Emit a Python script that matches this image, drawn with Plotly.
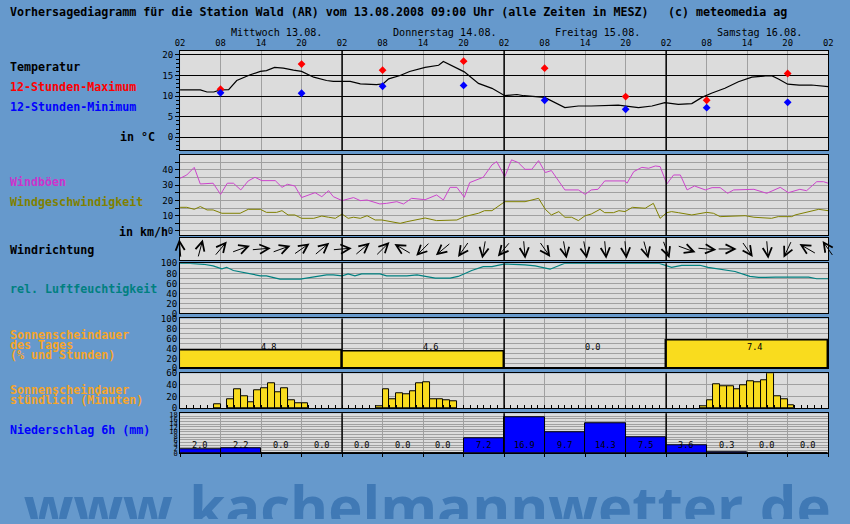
import math
import plotly.graph_objects as go

W, H = 850, 524
BG = '#6699CC'
PANEL = '#DCDCDC'
GRID = '#A0A0A0'
MONO = 'DejaVu Sans Mono'

# ---------------- data ----------------
hour_labels = ['02', '08', '14', '20'] * 4 + ['02']
day_names = ['Mittwoch 13.08.', 'Donnerstag 14.08.', 'Freitag 15.08.', 'Samstag 16.08.']
day_starts = [0, 24, 48, 72]
day_bounds = [24, 48, 72]

temp_hours = [0, 3, 4, 5, 6, 7.2, 8.4, 10.4, 11.9, 12.8, 14, 15.3, 16.8, 18, 19.8, 21.7, 22.7,
              25.2, 26.7, 29.1, 30.1, 30.9, 32.6, 34, 36.3, 38.3, 39, 40.2, 42.1, 44.2, 46.2,
              48.1, 49.9, 50.9, 53.1, 54, 57, 59, 60.9, 64.9, 67.9, 69.9, 71.8, 73.8, 75.8,
              77.3, 78.7, 80.7, 82.7, 84.7, 86.7, 87.7, 88.7, 90, 91.7, 93.5, 96]
temp_values = [11.5, 11.5, 11.0, 11.0, 11.5, 11.6, 13.8, 15.2, 16.0, 16.2, 17.0, 16.8, 16.3,
               16.0, 14.6, 13.8, 13.6, 13.6, 13.0, 12.8, 13.0, 14.2, 15.0, 16.0, 17.0, 17.5,
               18.4, 17.5, 15.9, 13.1, 11.9, 10.1, 10.4, 10.1, 9.7, 9.7, 7.2, 7.6, 7.6, 7.8,
               7.2, 7.6, 8.4, 8.0, 8.2, 9.7, 10.7, 11.9, 13.5, 14.6, 14.9, 14.9, 14.1, 12.9,
               12.7, 12.7, 12.3]
ext_hours = [6, 18, 30, 42, 54, 66, 78, 90]
tmax_values = [11.7, 17.8, 16.3, 18.5, 16.8, 9.9, 9.0, 15.5]
tmin_values = [10.8, 10.7, 12.4, 12.6, 9.0, 6.8, 7.2, 8.5]

gust_hours = [0, 1, 2.1, 3, 4.9, 6, 7, 7.9, 9, 10.1, 11.1, 12.1, 14.1, 15.1, 15.9, 17, 18, 20,
              21, 22, 22.7, 24, 25.7, 26.7, 27.7, 29.6, 30.6, 32.1, 33.1, 34.3, 36.3, 38, 39,
              40, 41, 42.1, 42.9, 44.9, 46.2, 46.9, 48.1, 49.1, 50.1, 51.1, 52.1, 53.1, 54.1,
              55, 57, 59, 60, 60.9, 61.9, 62.9, 65.9, 66.2, 67.2, 68.4, 69.4, 70.4, 71.1,
              72.1, 73.1, 74.1, 75.1, 76.2, 77.8, 78.8, 80, 81.1, 82, 85, 86.9, 88.9, 90.1,
              91.8, 92.8, 94.3, 95.3, 96]
gust_values = [34.5, 36.7, 41.7, 30.8, 31.3, 24.0, 31.3, 31.3, 26.9, 32.8, 35.2, 33.0, 33.0,
               28.6, 30.6, 29.5, 21.9, 25.1, 22.5, 26.4, 22.5, 19.9, 21.9, 19.9, 20.3, 17.7,
               18.1, 19.2, 17.7, 21.4, 20.5, 23.6, 20.3, 28.6, 28.6, 22.1, 31.7, 35.2, 43.3,
               45.5, 35.6, 46.6, 44.8, 40.4, 40.4, 46.1, 38.3, 39.6, 26.9, 26.9, 24.0, 26.9,
               27.3, 32.8, 32.8, 31.3, 38.9, 41.7, 41.1, 42.6, 42.2, 30.8, 36.7, 36.7, 26.9,
               29.5, 26.9, 28.4, 28.4, 24.7, 26.9, 27.3, 24.7, 28.6, 25.1, 27.3, 26.4, 32.3,
               32.3, 31.3]

wind_hours = [0, 1, 2.1, 3, 4, 4.9, 6.2, 8.9, 10.1, 11.9, 12.8, 14.3, 15.1, 16, 17, 18, 19.8,
              21, 22, 23, 24, 24.9, 25.7, 26.7, 27.7, 28.9, 29.9, 31.6, 32.6, 33.6, 35.1, 36.3,
              38, 39.5, 41, 42.1, 44.2, 45.1, 46.2, 48.1, 51.1, 53.1, 54.1, 55, 56.1, 57, 58,
              59, 60, 60.9, 62.2, 62.9, 64.2, 65, 65.9, 67, 68.9, 70.1, 71.1, 72.1, 72.8,
              73.8, 75.8, 78, 79, 80, 83.7, 85, 87.6, 88.6, 90.6, 91.1, 92.8, 94.6, 96]
wind_values = [15.5, 15.5, 14.2, 16.0, 13.8, 13.8, 11.6, 11.6, 14.2, 14.2, 12.2, 12.2, 13.3,
               10.5, 10.5, 8.3, 8.3, 9.8, 9.0, 8.3, 11.1, 8.3, 9.0, 8.3, 10.0, 7.2, 7.2, 5.5,
               5.0, 6.1, 7.2, 8.5, 6.8, 6.8, 7.2, 9.4, 11.6, 13.3, 13.3, 19.2, 19.2, 21.4,
               14.2, 10.5, 12.7, 9.0, 9.0, 6.8, 10.0, 11.1, 14.2, 12.0, 12.0, 13.3, 12.7,
               15.5, 14.9, 18.1, 8.3, 12.0, 12.7, 12.0, 10.5, 12.2, 11.6, 9.4, 10.0, 9.0, 8.3,
               9.4, 9.4, 10.5, 12.2, 14.2, 13.3]

dir_hours = list(range(0, 97, 3))
dir_degrees = [355, 15, 40, 70, 85, 70, 55, 50, 85, 50, 45, 300, 225, 230, 215, 190, 220,
               175, 145, 170, 170, 175, 175, 165, 160, 110, 95, 90, 145, 175, 205, 300, 325]

hum_hours = [0, 1.5, 3.5, 4.9, 6.2, 6.9, 7.9, 9.9, 11.9, 12.8, 14.8, 17.8, 18.8, 20.7, 21.7,
             22.7, 24, 24.9, 25.9, 26.9, 29.6, 30.6, 33.6, 35.1, 36.3, 37.8, 40, 41.2, 43.2,
             44.9, 46.2, 48.1, 51.1, 52.6, 54.8, 57, 70.9, 72.8, 74.3, 77, 78.2, 82.2, 84.4,
             85.7, 86.7, 88.2, 93.1, 94.3, 96]
hum_values = [100, 100, 98, 94.8, 88.9, 92, 85.6, 80.3, 75, 75, 68.5, 68.5, 70.5, 75, 77, 77,
              75, 79, 75, 79, 79, 75, 75, 77, 73.8, 70.5, 70.5, 73.8, 85.6, 93.4, 93.4, 98.7,
              96.7, 94.8, 88.2, 100, 100, 92, 96, 96, 92, 83.6, 73.8, 71.8, 71.8, 72.5, 72.5,
              69.2, 69.2]

sun_day_pct = [35, 33, 0, 55]
sun_day_hours = [4.8, 4.6, 0.0, 7.4]

sun_hour_start = [5, 7, 8, 9, 10, 11, 12, 13, 14, 15, 16, 17, 18,
                  29, 30, 31, 32, 33, 34, 35, 36, 37, 38, 39, 40,
                  77, 78, 79, 80, 81, 82, 83, 84, 85, 86, 87, 88, 89, 90]
sun_minutes = [7, 16, 33, 21, 11, 31, 34, 43, 27, 34, 14, 9, 9,
               3, 33, 15, 26, 24, 30, 43, 45, 15, 15, 14, 12,
               3, 14, 41, 38, 38, 33, 39, 46, 45, 48, 60, 20, 15, 5]

precip_start = list(range(0, 96, 6))
precip_mm = [2.0, 2.2, 0.0, 0.0, 0.0, 0.0, 0.0, 7.2, 16.9, 9.7, 14.3, 7.5, 3.6, 0.3, 0.0, 0.0]

watermark = 'www.kachelmannwetter.de'

# ---------------- layout helpers ----------------
# the photographed page shows up inset by ~5 px and slightly shrunk; positions below are
# given in picture pixels and converted to page coordinates
OX, OY, SX, SY = 5.0, 5.0, 0.988, 0.981
FS = 1.015  # font scale compensation


def px(r):
    return (r - OX) / SX


def fx(r):
    return px(r) / W


def fy(r):
    return 1 - ((r - OY) / SY) / H


X0, X1 = 180, 828

# panels: (top px, bottom px, y range)
panels = [
    (51, 150, [-3.09, 20.97]),      # temperature
    (155, 235, [-2.62, 49.8]),      # wind
    (238, 260, [-1, 1]),            # wind direction
    (263.3, 313.5, [0, 100]),       # humidity
    (318.5, 368.3, [0, 100]),       # daily sunshine
    (373.3, 408.3, [0, 60]),        # hourly sunshine
    (413.3, 453.3, [0, 18.8]),      # precipitation
]

fig = go.Figure()

tick_font = dict(family=MONO, size=9 * FS, color='black')
shapes = []

for i, (top, bot, rng) in enumerate(panels):
    n = '' if i == 0 else str(i + 1)
    xa = dict(domain=[fx(X0), fx(X1)], range=[0, 96], anchor='y' + n,
              showgrid=True, gridcolor=GRID, gridwidth=1,
              tickvals=list(range(0, 97, 6)), ticktext=hour_labels,
              showline=True, mirror=True, linecolor='black', linewidth=1,
              zeroline=False, fixedrange=True)
    if i == 0:
        xa.update(side='top', showticklabels=True, ticks='',
                  tickfont=dict(family=MONO, size=8.7 * FS, color='black'))
    else:
        xa.update(showticklabels=False, matches='x', ticks='')
    if i == 5:
        xa.update(ticks='inside', ticklen=3, tickcolor='black',
                  minor=dict(dtick=1, tick0=0, ticks='inside', ticklen=3, tickcolor='black'))
    if i == 6:
        xa.update(ticks='outside', ticklen=3, tickcolor='black')
    ya = dict(domain=[fy(bot), fy(top)], range=rng, anchor='x' + n,
              showline=True, mirror=True, linecolor='black', linewidth=1,
              zeroline=False, fixedrange=True, tickfont=tick_font,
              showgrid=True, gridcolor=GRID, gridwidth=1)
    fig.layout['xaxis' + n] = xa
    fig.layout['yaxis' + n] = ya
    shapes.append(dict(type='rect', xref='paper', yref='paper', x0=fx(X0), x1=fx(X1),
                       y0=fy(bot), y1=fy(top), fillcolor=PANEL, line=dict(width=0),
                       layer='below'))

fig.layout.yaxis.update(tickvals=[0, 5, 10, 15, 20], gridcolor='black', ticks='outside',
                        ticklen=4, tickcolor='black',
                        minor=dict(dtick=1, tick0=0, ticks='outside', ticklen=3, tickcolor='black'))
fig.layout.yaxis2.update(tickvals=[0, 10, 20, 30, 40], ticks='outside', ticklen=4, tickcolor='black',
                         minor=dict(dtick=5, tick0=0, showgrid=True, gridcolor=GRID,
                                    ticks='outside', ticklen=4, tickcolor='black'))
fig.layout.yaxis3.update(showticklabels=False, showgrid=False)
fig.layout.yaxis4.update(tickvals=[0, 20, 40, 60, 80, 100], ticks='',
                         minor=dict(dtick=10, tick0=0, showgrid=True, gridcolor=GRID))
fig.layout.yaxis5.update(tickvals=[0, 20, 40, 60, 80, 100], ticks='',
                         minor=dict(dtick=10, tick0=0, showgrid=True, gridcolor=GRID))
fig.layout.yaxis6.update(tickvals=[0, 20, 40, 60], ticks='')
fig.layout.yaxis7.update(tickvals=list(range(0, 19, 2)), ticks='', showgrid=False,
                         tickfont=dict(family=MONO, size=7, color='black'),
                         minor=dict(dtick=1.25, tick0=0, showgrid=True, gridcolor=GRID))

# watermark subplot in page pixel units, clipped at the page bottom
fig.layout.xaxis8 = dict(domain=[0, 1], range=[0, W], visible=False, fixedrange=True, anchor='y8')
fig.layout.yaxis8 = dict(domain=[0, 62 / H], range=[0, 62], visible=False, fixedrange=True, anchor='x8')

# ---------------- traces ----------------
fig.add_trace(go.Scatter(x=temp_hours, y=temp_values, mode='lines',
                         line=dict(color='black', width=1.2), xaxis='x', yaxis='y'))
fig.add_trace(go.Scatter(x=ext_hours, y=tmax_values, mode='markers',
                         marker=dict(symbol='diamond', size=6, color='#FF0000'), xaxis='x', yaxis='y'))
fig.add_trace(go.Scatter(x=ext_hours, y=tmin_values, mode='markers',
                         marker=dict(symbol='diamond', size=6, color='#0000FF'), xaxis='x', yaxis='y'))

fig.add_trace(go.Scatter(x=gust_hours, y=gust_values, mode='lines',
                         line=dict(color='#CC44CC', width=1), xaxis='x2', yaxis='y2'))
fig.add_trace(go.Scatter(x=wind_hours, y=wind_values, mode='lines',
                         line=dict(color='#808000', width=1), xaxis='x2', yaxis='y2'))

fig.add_trace(go.Scatter(x=hum_hours, y=hum_values, mode='lines',
                         line=dict(color='#008080', width=1.2), xaxis='x4', yaxis='y4'))

fig.add_trace(go.Bar(x=[d + 12 for d in day_starts], y=sun_day_pct, width=24,
                     marker=dict(color='#F9DC1E', line=dict(color='black', width=1.5)),
                     xaxis='x5', yaxis='y5'))
fig.add_trace(go.Bar(x=[h + 0.5 for h in sun_hour_start], y=sun_minutes, width=1,
                     marker=dict(color='#F9DC1E', line=dict(color='black', width=1)),
                     xaxis='x6', yaxis='y6'))
fig.add_trace(go.Bar(x=[h + 3 for h in precip_start], y=precip_mm, width=6,
                     marker=dict(color='#0000FF', line=dict(color='black', width=1)),
                     xaxis='x7', yaxis='y7'))

fig.add_trace(go.Scatter(x=[19], y=[6], mode='text', text=['<b>%s</b>' % watermark],
                         textposition='middle right', cliponaxis=True, hoverinfo='skip',
                         textfont=dict(family='Open Sans', size=58, color='#4079B5'),
                         xaxis='x8', yaxis='y8'))

for i in range(len(panels)):
    n = '' if i == 0 else str(i + 1)
    for b in day_bounds:
        shapes.append(dict(type='line', xref='x' + n, yref='y' + n + ' domain',
                           x0=b, x1=b, y0=0, y1=1, line=dict(color='black', width=1.5),
                           layer='above'))

# ---------------- annotations ----------------
ann = []


def label(xp, yp, text, color='black', size=11.5, bold=True, xanchor='left', family=MONO):
    t = '<b>%s</b>' % text if bold else text
    shift = -2 if xanchor == 'left' else 2
    ann.append(dict(x=fx(xp), y=fy(yp), xref='paper', yref='paper', text=t, showarrow=False,
                    xanchor=xanchor, yanchor='middle', xshift=shift,
                    font=dict(family=family, size=size * FS, color=color)))


label(10, 12.5, 'Vorhersagediagramm für die Station Wald (AR) vom 13.08.2008 09:00 Uhr (alle Zeiten in MESZ)')
label(668, 12.5, '(c) meteomedia ag')

label(10, 67, 'Temperatur')
label(10, 87, '12-Stunden-Maximum', color='#FF0000')
label(10, 107, '12-Stunden-Minimum', color='#0000FF')
label(155, 137, 'in °C', xanchor='right')
label(10, 182, 'Windböen', color='#CC33CC')
label(10, 202, 'Windgeschwindigkeit', color='#808000')
label(168, 232, 'in km/h', xanchor='right')
label(10, 250, 'Windrichtung')
label(10, 289, 'rel. Luftfeuchtigkeit', color='#008080')
ORANGE = '#F5A52A'
label(10, 335, 'Sonnenscheindauer', color=ORANGE)
label(10, 345, 'des Tages', color=ORANGE)
label(10, 355, '(% und Stunden)', color=ORANGE)
label(10, 390, 'Sonnenscheindauer', color=ORANGE)
label(10, 400, 'stündlich (Minuten)', color=ORANGE)
label(10, 430, 'Niederschlag 6h (mm)', color='#0000FF')

# day names
for d, name in zip(day_starts, day_names):
    ann.append(dict(x=d, y=fy(33), xref='x', yref='paper', text=name, showarrow=False,
                    xanchor='left', yanchor='middle', xshift=49,
                    font=dict(family=MONO, size=10 * FS, color='black')))

# daily sunshine labels
for d, v in zip(day_starts, sun_day_hours):
    ann.append(dict(x=d + 12, y=42, xref='x5', yref='y5', text='%.1f' % v, showarrow=False,
                    xanchor='left', yanchor='middle', xshift=-2,
                    font=dict(family=MONO, size=8.5 * FS, color='black')))

# precipitation labels
for s, v in zip(precip_start, precip_mm):
    ann.append(dict(x=s + 3, y=3.9, xref='x7', yref='y7', text='%.1f' % v, showarrow=False,
                    xanchor='center', yanchor='middle',
                    font=dict(family=MONO, size=8.5 * FS, color='black')))

# wind direction arrows
L = 19.5
for h, deg in zip(dir_hours, dir_degrees):
    r = math.radians(deg)
    s, c = math.sin(r), math.cos(r)
    ann.append(dict(x=h, y=0, xref='x3', yref='y3', text=' ', showarrow=True,
                    arrowhead=5, arrowsize=1.8, arrowwidth=1, arrowcolor='black',
                    ax=-L * s, ay=L * c, xshift=L / 2 * s, yshift=L / 2 * c,
                    font=dict(size=1)))

fig.update_layout(width=W, height=H, margin=dict(l=0, r=0, t=0, b=0),
                  paper_bgcolor=BG, plot_bgcolor=BG, showlegend=False,
                  shapes=shapes, annotations=ann, bargap=0)

fig.write_html('out.html', config={'displayModeBar': False},
               post_script="document.body.style.margin='0';document.body.style.overflow='hidden';"
                           "document.documentElement.style.overflow='hidden';")
